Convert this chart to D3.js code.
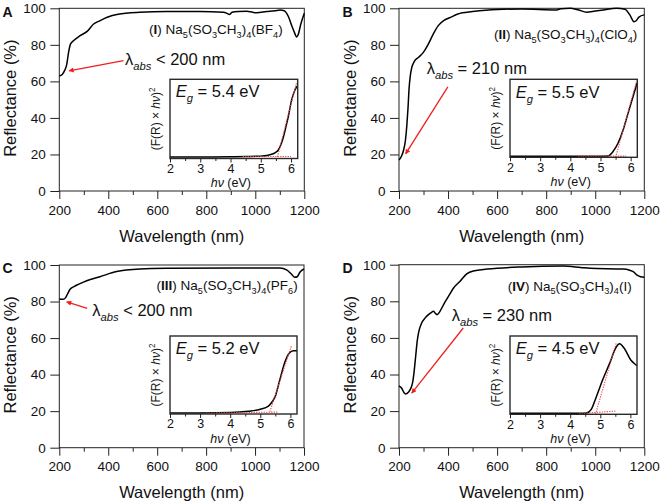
<!DOCTYPE html>
<html><head><meta charset="utf-8">
<script src="https://cdn.jsdelivr.net/npm/d3@7"></script>
<style>
body{margin:0;background:#fff}
svg{display:block}
text{font-family:"Liberation Sans",Arial,Helvetica,sans-serif;fill:#111}
</style>
</head><body>
<svg id="c" width="661" height="504"></svg>
<script>
// ---------------- DATA ----------------
const panelLetters = ["A","B","C","D"];
const romans = ["I","II","III","IV"];
const anionBase = ["BF","ClO","PF","I"];
const anionSub = ["4","4","6",""];
const lambdaOps = ["<","=","<","="];
const lambdaVals = [200,210,200,230];
const bandGaps = [5.4,5.5,5.2,4.5];

const xTicks = [200,400,600,800,1000,1200];
const xMinorTicks = [300,500,700,900,1100];
const yTicks = [0,20,40,60,80,100];
const insetTicks = [2,3,4,5,6];
const insetMinorTicks = [2.5,3.5,4.5,5.5];

// Reflectance spectra (wavelength nm, reflectance %)
const wlA = [200,212,222,230,238,246,260,285,315,340,360,393,440,529,638,774,870,885,894,905,930,965,990,1006,1046,1080,1101,1118,1135,1150,1162,1168,1175,1185,1200];
const rA  = [63,63.8,66,69,76,80.5,82.5,85,87.5,91.4,92.8,95,96.8,97.8,98.2,98.2,97.9,97.2,96.6,97.8,98.3,98.4,97.8,97.6,98.2,98.6,99.1,98.7,95.5,90,86,84.3,85.5,91,97.3];

const wlB = [200,210,218,226,232,237,241,246,252,262,280,300,320,340,360,385,410,440,500,600,700,843,860,897,930,965,1000,1033,1087,1121,1141,1158,1167,1178,1200];
const rB  = [17,19,22,27.5,36,46,56,63,67.5,70.8,73.2,76,80.5,86,90.5,93.5,95,96.9,98.2,99.4,99.6,99.1,99.8,100,99.2,97.8,98.5,99.1,100,99.5,96.4,92.7,93.2,95.2,96.4];

const wlC = [200,216,225,233,244,260,280,312,366,434,530,639,911,1102,1129,1150,1162,1172,1184,1200];
const rC  = [81.4,81.2,82,84,86.7,88.2,89.5,91.4,93.6,96.4,97.8,98.2,98.4,98.4,97.3,94.8,93.3,93.6,96.2,97.8];

const wlD = [200,211,220,227,238,250,256,262,268,274,280,292,306,320,333,340,348,354,361,367,385,401,421,449,476,503,560,700,870,940,979,1114,1140,1155,1169,1185,1200];
const rD  = [33.8,32.5,30.2,29.4,30.3,33,36,42,50,58,63,68,70.8,72.7,74,74.5,73.5,72.7,73.3,74.5,79,82.5,87,91,95,96.6,97.6,98.8,99.3,98.5,98,97.6,97,96.2,94.4,93.4,93.1];

// Tauc plots (photon energy eV, relative (F(R)·hν)^2)
const eA = [2,3,4,4.5,5,5.2,5.36,5.48,5.58,5.67,5.75,5.83,5.91,6.02,6.13,6.21];
const fA = [0.02,0.02,0.022,0.025,0.03,0.038,0.053,0.075,0.107,0.18,0.275,0.4,0.53,0.74,0.865,0.915];
const eB = [2,3,4,4.5,5,5.25,5.41,5.58,5.75,5.91,6.08,6.21];
const fB = [0.012,0.012,0.013,0.014,0.015,0.017,0.072,0.18,0.35,0.56,0.78,0.95];
const eC = [2,3,4,4.6,5.0,5.27,5.4,5.49,5.65,5.82,5.96,6.1,6.22];
const fC = [0.012,0.012,0.018,0.035,0.06,0.1,0.16,0.22,0.44,0.67,0.78,0.81,0.81];
const eD = [2,3,4,4.4,4.54,4.7,4.87,5.08,5.31,5.53,5.64,5.8,6.02,6.19,6.22];
const fD = [0.012,0.012,0.012,0.012,0.016,0.064,0.225,0.44,0.65,0.86,0.9,0.84,0.69,0.63,0.62];

// Tangent fits and baselines (eV, relative value)
const tanEA = [5.55,6.19], tanVA = [0.02,0.97], baseEA = [4.4,6.0], baseVA = [0.025,0.025];
const tanEB = [5.5,6.19],  tanVB = [0.0,0.97],  baseEB = [4.25,5.85], baseVB = [0.015,0.015];
const tanEC = [5.32,6.04], tanVC = [0.03,0.88], baseEC = [3.2,5.6], baseVC = [0.012,0.025];
const tanED = [4.84,5.53], tanVD = [0.0,0.91],  baseED = [4.3,5.5], baseVD = [0.01,0.04];

// Annotation arrows (wavelength nm, reflectance %): tail -> head
const arrowWl = [[462,240],[399,227],[314,230],[462,252]];
const arrowR  = [[71.3,65.8],[57,20.3],[76.3,79.8],[65.4,29.8]];

const spectraWl = [wlA,wlB,wlC,wlD];
const spectraR = [rA,rB,rC,rD];
const taucE = [eA,eB,eC,eD];
const taucF = [fA,fB,fC,fD];
const tanE = [tanEA,tanEB,tanEC,tanED], tanV = [tanVA,tanVB,tanVC,tanVD];
const baseE = [baseEA,baseEB,baseEC,baseED], baseV = [baseVA,baseVB,baseVC,baseVD];

// ---------------- LAYOUT ----------------
const layout = [
  {x0:59.3,x1:304.3,y0:8.3,y1:191, lab:[2.5,16.7], comp:[282.7,34], lam:[125,65], eg:[175.7,97.3],
   inset:{x0:170,x1:297.7,y0:79.3,y1:158.5}},
  {x0:399,x1:644.3,y0:8.3,y1:191, lab:[342.5,16.7], comp:[637.3,39], lam:[426.7,74], eg:[515.7,98.3],
   inset:{x0:510,x1:637.3,y0:79.3,y1:157.3}},
  {x0:59.3,x1:304,y0:265,y1:447.7, lab:[2.5,272.7], comp:[297.7,290], lam:[92.3,316], eg:[175.7,354],
   inset:{x0:170,x1:297,y0:336,y1:414}},
  {x0:399,x1:644.3,y0:264.7,y1:447.7, lab:[342.5,272.7], comp:[631.7,290.7], lam:[451.7,321], eg:[515.7,354],
   inset:{x0:510,x1:637,y0:336,y1:414.3}}
];

const svg = d3.select("#c");
const defs = svg.append("defs");
defs.append("marker").attr("id","ah").attr("viewBox","0 0 10 10").attr("refX",9).attr("refY",5)
  .attr("markerWidth",6.5).attr("markerHeight",5).attr("markerUnits","userSpaceOnUse").attr("orient","auto")
  .append("path").attr("d","M0,0L10,5L0,10Z").attr("fill","#ee1f1f");

const AXC = "#222";
const TICKFS = 13.5;
const INSETFS = 12.5;

function rich(g, x, y, parts, size, anchor, rotate){
  const t = g.append("text").attr("x",x).attr("y",y).attr("font-size",size)
    .attr("text-anchor",anchor||"start");
  if(rotate) t.attr("transform",`rotate(-90,${x},${y})`);
  let shift = 0;
  parts.forEach(p=>{
    const s = typeof p==="string"?p:p[0];
    const st = typeof p==="string"?"":p[1];
    let target = 0, fs = size;
    if(st.includes("_")){ target = size*0.28; fs = size*0.68; }
    if(st.includes("^")){ target = -size*0.42; fs = size*0.68; }
    const ts = t.append("tspan").text(s).attr("font-size",fs);
    if(target-shift !== 0) ts.attr("dy", target-shift);
    if(st.includes("B")) ts.attr("font-weight","bold");
    if(st.includes("I")) ts.attr("font-style","italic");
    shift = target;
  });
  return t;
}

layout.forEach((L,i)=>{
  const g = svg.append("g");
  const x = d3.scaleLinear().domain([200,1200]).range([L.x0,L.x1]);
  const y = d3.scaleLinear().domain([0,100]).range([L.y1,L.y0]);

  // axes
  const ax = g.append("g").attr("transform",`translate(0,${L.y1})`)
    .call(d3.axisBottom(x).tickValues(xTicks).tickSize(8).tickSizeOuter(0).tickPadding(6).tickFormat(d3.format("d")));
  const axm = g.append("g").attr("transform",`translate(0,${L.y1})`)
    .call(d3.axisBottom(x).tickValues(xMinorTicks).tickSize(4).tickFormat(""));
  const ay = g.append("g").attr("transform",`translate(${L.x0},0)`)
    .call(d3.axisLeft(y).tickValues(yTicks).tickSize(9).tickSizeOuter(0).tickPadding(4.5).tickFormat(d3.format("d")));
  [ax,axm,ay].forEach(a=>{
    a.select(".domain").remove();
    a.selectAll("line").attr("stroke",AXC).attr("stroke-width",1);
    a.selectAll("text").attr("font-size",TICKFS).attr("fill","#111")
      .attr("font-family",'"Liberation Sans",Arial,sans-serif');
  });
  g.append("rect").attr("x",L.x0).attr("y",L.y0).attr("width",L.x1-L.x0).attr("height",L.y1-L.y0)
    .attr("fill","none").attr("stroke",AXC).attr("stroke-width",1);

  // axis titles
  g.append("text").attr("x",(L.x0+L.x1)/2).attr("y",L.y1+50.7).attr("text-anchor","middle")
    .attr("font-size",16.5).text("Wavelength (nm)");
  const ty = (L.y0+L.y1)/2 - 1.5, tx = L.x0-43;
  g.append("text").attr("x",tx).attr("y",ty).attr("text-anchor","middle")
    .attr("transform",`rotate(-90,${tx},${ty})`).attr("font-size",16.5).text("Reflectance (%)");

  // panel letter
  g.append("text").attr("x",L.lab[0]).attr("y",L.lab[1]).attr("font-size",14).attr("font-weight","bold")
    .text(panelLetters[i]);

  // spectrum
  const pts = spectraWl[i].map((w,k)=>[w,spectraR[i][k]]);
  g.append("path").datum(pts).attr("fill","none").attr("stroke","#000").attr("stroke-width",1.5)
    .attr("stroke-linejoin","round")
    .attr("d",d3.line().x(d=>x(d[0])).y(d=>y(d[1])).curve(d3.curveMonotoneX));

  // compound label
  const cparts = ["(",[romans[i],"B"],") Na",["5","_"],"(SO",["3","_"],"CH",["3","_"],")",["4","_"],"(",anionBase[i]];
  if(anionSub[i]) cparts.push([anionSub[i],"_"]);
  cparts.push(")");
  rich(g, L.comp[0], L.comp[1], cparts, 13.5, "end");

  // lambda annotation
  rich(g, L.lam[0], L.lam[1], ["λ",["abs","_I"],` ${lambdaOps[i]} ${lambdaVals[i]} nm`], 16.5, "start");
  const aw = arrowWl[i], ar = arrowR[i];
  g.append("line").attr("x1",x(aw[0])).attr("y1",y(ar[0])).attr("x2",x(aw[1])).attr("y2",y(ar[1]))
    .attr("stroke","#ee1f1f").attr("stroke-width",1.3).attr("marker-end","url(#ah)");

  // inset
  const I = L.inset;
  const ix = d3.scaleLinear().domain([2,6.22]).range([I.x0,I.x1]);
  const iy = d3.scaleLinear().domain([0,1]).range([I.y1,I.y0]);
  g.append("rect").attr("x",I.x0).attr("y",I.y0).attr("width",I.x1-I.x0).attr("height",I.y1-I.y0)
    .attr("fill","#fff");
  const tp = taucE[i].map((e,k)=>[e,taucF[i][k]]);
  g.append("path").datum(tp).attr("fill","none").attr("stroke","#000").attr("stroke-width",1.5)
    .attr("d",d3.line().x(d=>ix(d[0])).y(d=>iy(d[1])).curve(d3.curveMonotoneX));
  const redLine = (E,V)=>g.append("line").attr("x1",ix(E[0])).attr("y1",iy(V[0])).attr("x2",ix(E[1])).attr("y2",iy(V[1]))
    .attr("stroke","#f04a4a").attr("stroke-width",1.1).attr("stroke-dasharray","1.3 1.2");
  redLine(tanE[i],tanV[i]);
  redLine(baseE[i],baseV[i]);
  g.append("rect").attr("x",I.x0).attr("y",I.y0).attr("width",I.x1-I.x0).attr("height",I.y1-I.y0)
    .attr("fill","none").attr("stroke","#2a2a2a").attr("stroke-width",1.4);
  const iax = g.append("g").attr("transform",`translate(0,${I.y1})`)
    .call(d3.axisBottom(ix).tickValues(insetTicks).tickSize(4).tickSizeOuter(0).tickPadding(1.5).tickFormat(d3.format("d")));
  const iaxm = g.append("g").attr("transform",`translate(0,${I.y1})`)
    .call(d3.axisBottom(ix).tickValues(insetMinorTicks).tickSize(2.5).tickFormat(""));
  [iax,iaxm].forEach(a=>{
    a.select(".domain").remove();
    a.selectAll("line").attr("stroke",AXC).attr("stroke-width",1);
    a.selectAll("text").attr("font-size",INSETFS).attr("fill","#111")
      .attr("font-family",'"Liberation Sans",Arial,sans-serif');
  });
  rich(g, (I.x0+I.x1)/2 - 3, I.y1+28.5, [["hν","I"]," (eV)"], 12.5, "middle");
  rich(g, I.x0-10, (I.y0+I.y1)/2, ["(F(R) × ",["hν","I"],")",["2","^"]], 12, "middle", true);
  rich(g, L.eg[0], L.eg[1], [["E","I"],["g","_I"],` = ${bandGaps[i]} eV`], 16.5, "start");
});
</script>
</body></html>
